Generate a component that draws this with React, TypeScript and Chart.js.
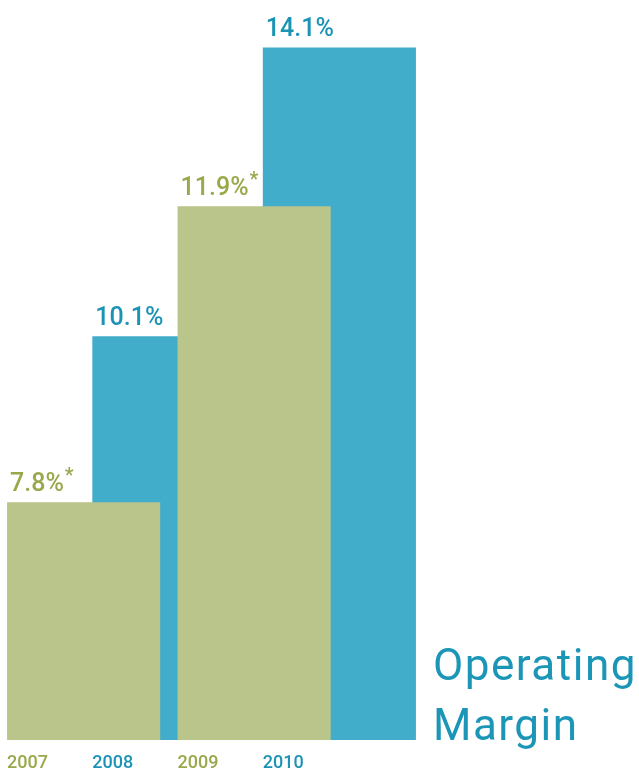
import React, { useEffect, useRef } from "react";
import { Chart, registerables } from "chart.js";

Chart.register(...registerables);

const years = ["2007", "2008", "2009", "2010"];
const margins = [7.8, 10.1, 11.9, 14.1];
const footnoted = [true, false, true, false];
const titleLines = ["Operating", "Margin"];

const GREEN_BAR = "#b9c58a";
const GREEN_TEXT = "#98a84a";
const BLUE_BAR = "#42adca";
const BLUE_TEXT = "#1a93b5";

const greenData = margins.map((v, i) => (footnoted[i] ? v : null));
const blueData = margins.map((v, i) => (footnoted[i] ? null : v));

const labelPlugin = {
  id: "labels",
  afterDatasetsDraw(chart: any) {
    const ctx = chart.ctx;
    const area = chart.chartArea;
    ctx.save();
    chart.data.datasets.forEach((ds: any, di: number) => {
      const meta = chart.getDatasetMeta(di);
      meta.data.forEach((bar: any, i: number) => {
        const v = ds.data[i];
        if (v == null) return;
        const p = bar.getProps(["x", "y", "width"], true);
        const left = p.x - p.width / 2;
        const color = ds.textColor;
        ctx.fillStyle = color;
        ctx.textBaseline = "alphabetic";
        ctx.textAlign = "left";
        ctx.font = "500 25px Roboto";
        const txt = v.toFixed(1) + "%";
        ctx.fillText(txt, left + 3, p.y - 11);
        if (footnoted[i]) {
          const w = ctx.measureText(txt).width;
          ctx.font = "500 20px Roboto";
          ctx.fillText("*", left + 3 + w + 1, p.y - 20);
        }
        ctx.font = "500 18px Roboto";
        ctx.fillText(years[i], left, area.bottom + 28);
      });
    });
    ctx.fillStyle = "#1b96b7";
    ctx.font = "400 44px Roboto";
    ctx.textAlign = "left";
    (ctx as any).letterSpacing = "1.5px";
    ctx.fillText(titleLines[0], 433, 680);
    ctx.fillText(titleLines[1], 433, 740);
    ctx.restore();
  },
};

export default function App() {
  const ref = useRef<HTMLCanvasElement>(null);
  useEffect(() => {
    const clip = { left: false, right: false, top: false, bottom: 0 };
    const chart = new Chart(ref.current as HTMLCanvasElement, {
      type: "bar",
      data: {
        labels: years,
        datasets: [
          {
            label: "footnoted",
            data: greenData,
            backgroundColor: GREEN_BAR,
            textColor: GREEN_TEXT,
            clip,
          } as any,
          {
            label: "reported",
            data: blueData,
            backgroundColor: BLUE_BAR,
            textColor: BLUE_TEXT,
            clip,
          } as any,
        ],
      },
      options: {
        animation: false,
        responsive: true,
        maintainAspectRatio: false,
        layout: { padding: { left: 41, right: 257, top: 0, bottom: 32 } },
        datasets: {
          bar: {
            grouped: false,
            barPercentage: 1.796,
            categoryPercentage: 1,
            borderWidth: 0,
          },
        },
        plugins: { legend: { display: false }, tooltip: { enabled: false } },
        scales: {
          x: { display: false, offset: true },
          y: { display: false, min: 4.506, max: 14.757 },
        },
      } as any,
      plugins: [labelPlugin],
    });
    return () => chart.destroy();
  }, []);
  return (
    <div style={{ position: "absolute", left: 0, top: 0, width: 639, height: 772, background: "#fff" }}>
      <canvas ref={ref} />
    </div>
  );
}
